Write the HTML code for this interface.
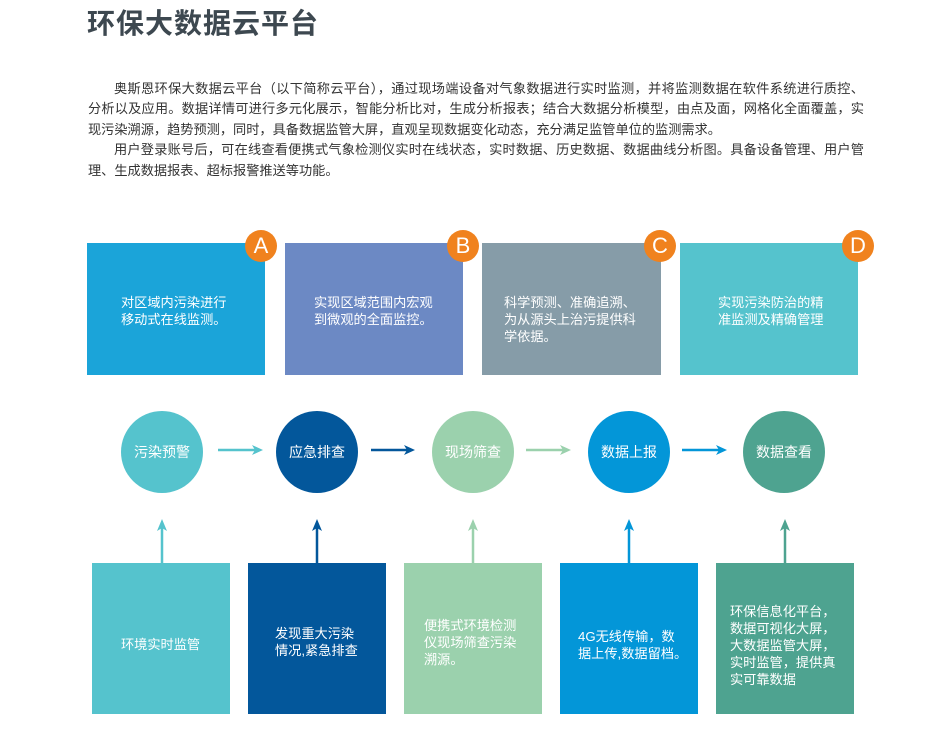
<!DOCTYPE html>
<html><head><meta charset="utf-8"><style>
body{margin:0;width:945px;height:753px;background:#fff;position:relative;font-family:"Liberation Sans","Noto Sans CJK SC",sans-serif;overflow:hidden}
.a{position:absolute}
h1{position:absolute;left:87px;top:2px;margin:0;font-size:28px;font-weight:bold;color:#3d4850;letter-spacing:1px}
.p{position:absolute;left:88px;top:79px;width:776px;font-size:13.2px;line-height:20.4px;color:#333}
.p div{white-space:nowrap;text-align:justify;text-align-last:justify}
.p div.l{text-align-last:left}
.box{position:absolute;color:#fff;font-size:13.2px;line-height:17px;display:flex;align-items:center;box-sizing:border-box}
.box span{display:block}
.badge{position:absolute;width:32px;height:32px;border-radius:50%;background:#f0821e;color:#fff;font-size:22px;text-align:center;line-height:32px}
.c{position:absolute;width:82px;height:82px;border-radius:50%;color:#fff;font-size:14px;text-align:center;line-height:82px;top:411px}
</style></head><body>
<h1>环保大数据云平台</h1>
<div class="p">
<div style="padding-left:26px">奥斯恩环保大数据云平台（以下简称云平台），通过现场端设备对气象数据进行实时监测，并将监测数据在软件系统进行质控、</div>
<div>分析以及应用。数据详情可进行多元化展示，智能分析比对，生成分析报表；结合大数据分析模型，由点及面，网格化全面覆盖，实</div>
<div class="l">现污染溯源，趋势预测，同时，具备数据监管大屏，直观呈现数据变化动态，充分满足监管单位的监测需求。</div>
<div style="padding-left:26px">用户登录账号后，可在线查看便携式气象检测仪实时在线状态，实时数据、历史数据、数据曲线分析图。具备设备管理、用户管</div>
<div class="l">理、生成数据报表、超标报警推送等功能。</div>
</div>

<div class="box" style="left:87px;top:243px;width:178px;height:132px;background:#1ba4d9;padding-top:4px"><span style="margin-left:34px">对区域内污染进行<br>移动式在线监测。</span></div>
<div class="box" style="left:285px;top:243px;width:178px;height:132px;background:#6c89c4;padding-top:4px"><span style="margin-left:29px">实现区域范围内宏观<br>到微观的全面监控。</span></div>
<div class="box" style="left:482px;top:243px;width:179px;height:132px;background:#869ca8;padding-top:20px"><span style="margin-left:22px">科学预测、准确追溯、<br>为从源头上治污提供科<br>学依据。</span></div>
<div class="box" style="left:680px;top:243px;width:178px;height:132px;background:#55c3cd;padding-top:4px"><span style="margin-left:38px">实现污染防治的精<br>准监测及精确管理</span></div>
<div class="badge" style="left:245px;top:230px">A</div>
<div class="badge" style="left:447px;top:230px">B</div>
<div class="badge" style="left:644px;top:230px">C</div>
<div class="badge" style="left:842px;top:230px">D</div>

<div class="c" style="left:121px;background:#55c3cd">污染预警</div>
<div class="c" style="left:276px;background:#03579b">应急排查</div>
<div class="c" style="left:432px;background:#9bd1ad">现场筛查</div>
<div class="c" style="left:588px;background:#0396d8">数据上报</div>
<div class="c" style="left:743px;background:#4ea390">数据查看</div>

<svg class="a" style="left:0;top:0" width="945" height="753">
<g stroke-width="2.5">
<line x1="218" y1="450" x2="258" y2="450" stroke="#55c3cd"/><path d="M252 445 L263 450 L252 455 L255 450Z" fill="#55c3cd"/>
<line x1="371" y1="450" x2="410" y2="450" stroke="#03579b"/><path d="M404 445 L415 450 L404 455 L407 450Z" fill="#03579b"/>
<line x1="526" y1="450" x2="566" y2="450" stroke="#9bd1ad"/><path d="M560 445 L571 450 L560 455 L563 450Z" fill="#9bd1ad"/>
<line x1="682" y1="450" x2="722" y2="450" stroke="#0396d8"/><path d="M716 445 L727 450 L716 455 L719 450Z" fill="#0396d8"/>
<line x1="162" y1="563" x2="162" y2="525" stroke="#55c3cd"/><path d="M157 531 L162 519 L167 531 L162 528Z" fill="#55c3cd"/>
<line x1="317" y1="563" x2="317" y2="525" stroke="#03579b"/><path d="M312 531 L317 519 L322 531 L317 528Z" fill="#03579b"/>
<line x1="473" y1="563" x2="473" y2="525" stroke="#9bd1ad"/><path d="M468 531 L473 519 L478 531 L473 528Z" fill="#9bd1ad"/>
<line x1="629" y1="563" x2="629" y2="525" stroke="#0396d8"/><path d="M624 531 L629 519 L634 531 L629 528Z" fill="#0396d8"/>
<line x1="785" y1="563" x2="785" y2="525" stroke="#4ea390"/><path d="M780 531 L785 519 L790 531 L785 528Z" fill="#4ea390"/>
</g></svg>

<div class="box" style="left:92px;top:563px;width:138px;height:151px;background:#55c3cd;padding-top:12px"><span style="margin-left:29px">环境实时监管</span></div>
<div class="box" style="left:248px;top:563px;width:138px;height:151px;background:#03579b;padding-top:6px"><span style="margin-left:27px">发现重大污染<br>情况,紧急排查</span></div>
<div class="box" style="left:404px;top:563px;width:138px;height:151px;background:#9bd1ad;padding-top:8px"><span style="margin-left:20px">便携式环境检测<br>仪现场筛查污染<br>溯源。</span></div>
<div class="box" style="left:560px;top:563px;width:138px;height:151px;background:#0396d8;padding-top:12px"><span style="margin-left:18px">4G无线传输，数<br>据上传,数据留档。</span></div>
<div class="box" style="left:716px;top:563px;width:138px;height:151px;background:#4ea390;padding-top:14px"><span style="margin-left:14px">环保信息化平台，<br>数据可视化大屏，<br>大数据监管大屏，<br>实时监管，提供真<br>实可靠数据</span></div>
</body></html>
